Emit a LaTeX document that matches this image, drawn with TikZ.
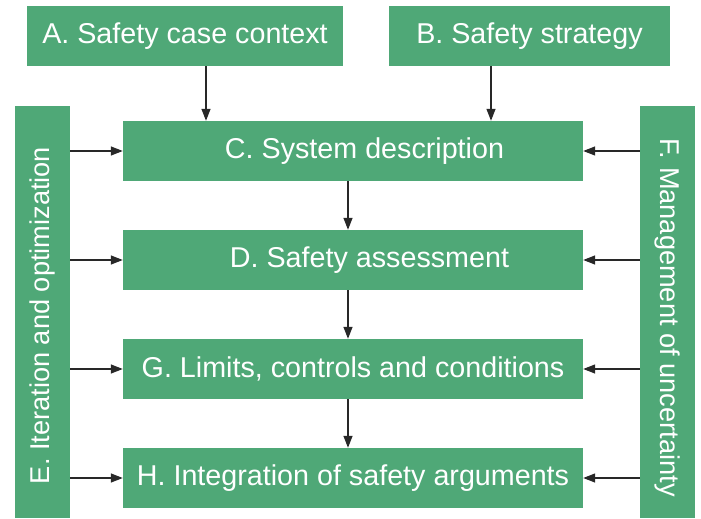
\documentclass[tikz,border=0pt]{standalone}
\usepackage{fontspec}
\setmainfont{Liberation Sans}
\usetikzlibrary{arrows.meta}
\definecolor{boxgreen}{RGB}{79,168,119}
\definecolor{arrowgray}{RGB}{40,40,40}
\begin{document}
\begin{tikzpicture}[x=1bp,y=-1bp,
  gbox/.style={fill=boxgreen,draw=none,inner sep=0pt,text=white,font=\fontsize{28.8}{32}\selectfont},
  vtext/.style={gbox,font=\fontsize{27.3}{30}\selectfont},
  conn/.style={draw=arrowgray,line width=1.3bp,-{Triangle[length=12bp,width=9bp]}}]
\useasboundingbox (0,0) rectangle (701,519);
\node[gbox,minimum width=316bp,minimum height=60bp] (A) at (185,36) {A. Safety case context};
\node[gbox,minimum width=281bp,minimum height=60bp] (B) at (529.5,36) {B. Safety strategy};
\node[gbox,minimum width=460bp,minimum height=60bp] (C) at (353,151) {\hspace{23bp}C. System description};
\node[gbox,minimum width=460bp,minimum height=60bp] (D) at (353,260) {\hspace{33bp}D. Safety assessment};
\node[gbox,minimum width=460bp,minimum height=60bp] (G) at (353,369) {G. Limits, controls and conditions};
\node[gbox,minimum width=460bp,minimum height=60bp] (H) at (353,478) {H. Integration of safety arguments};
\node[gbox,minimum width=55bp,minimum height=412bp] (E) at (42.5,312) {};
\node[vtext,rotate=90] (Et) at (42.5,315.5) {E. Iteration and optimization};
\node[gbox,minimum width=55bp,minimum height=412bp] (F) at (667.5,312) {};
\node[vtext,rotate=-90] (Ft) at (667.5,317.5) {F. Management of uncertainty};
\draw[conn] (A.south -| 206,0) -- (C.north -| 206,0);
\draw[conn] (B.south -| 491,0) -- (C.north -| 491,0);
\draw[conn] (C.south -| 348,0) -- (D.north -| 348,0);
\draw[conn] (D.south -| 348,0) -- (G.north -| 348,0);
\draw[conn] (G.south -| 348,0) -- (H.north -| 348,0);
\foreach \n in {C,D,G,H}{
  \draw[conn] (E.east |- \n.west) -- (\n.west);
  \draw[conn] (F.west |- \n.east) -- (\n.east);
}
\end{tikzpicture}
\end{document}
